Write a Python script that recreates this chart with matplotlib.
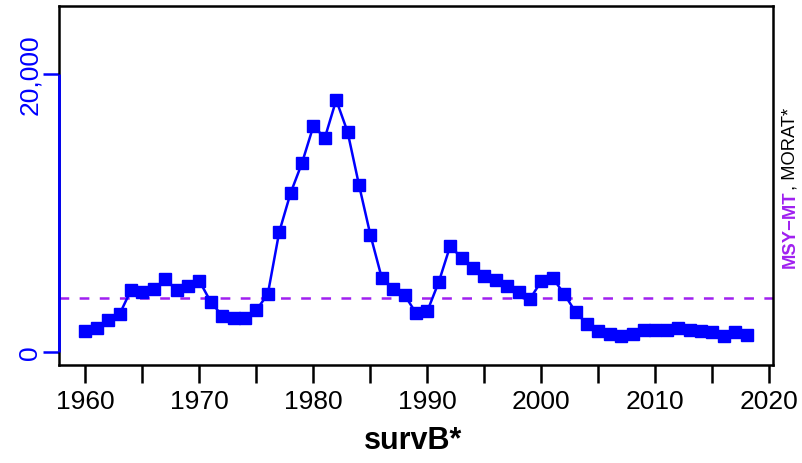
import matplotlib
matplotlib.use("Agg")
import matplotlib.pyplot as plt

plt.rcParams["font.family"] = ["Liberation Sans", "DejaVu Sans"]
plt.rcParams["lines.scale_dashes"] = False

years = list(range(1960, 2019))
survB = [1510, 1730, 2300, 2730, 4460, 4320, 4530, 5250, 4460, 4750,
         5100, 3600, 2600, 2450, 2450, 3020, 4170, 8630, 11440, 13600,
         16260, 15400, 18130, 15830, 12010, 8420, 5320, 4530, 4100, 2800,
         2950, 5040, 7630, 6760, 6040, 5470, 5180, 4750, 4320, 3810,
         5110, 5320, 4170, 2880, 2010, 1510, 1290, 1150, 1290, 1580,
         1580, 1580, 1730, 1580, 1510, 1440, 1150, 1440, 1220]
msy_mt = 3880

x_ticks = list(range(1960, 2021, 5))
x_labels = [str(v) if v % 10 == 0 else "" for v in x_ticks]
y_ticks = [0, 20000]
y_labels = ["0", "20,000"]

blue = "#0000FF"
purple = "#A020F0"

fig = plt.figure(figsize=(8.03, 4.64), dpi=100)
ax = fig.add_axes([59 / 803, 98 / 464, 714 / 803, 359 / 464])

ax.plot(years, survB, color=blue, lw=1.8, marker="s", markersize=8.3,
        zorder=3)
ax.axhline(msy_mt, color=purple, lw=1.8, ls=(0, (7, 7.5)), zorder=2)

ax.set_xlim(1957.68, 2020.32)
ax.set_ylim(-935, 24890)

for s in ax.spines.values():
    s.set_color("black")
    s.set_linewidth(1.8)

# blue y axis segment over the box edge
ax.plot([0, 0], [0, 20000], color=blue, lw=2, transform=ax.get_yaxis_transform(),
        clip_on=False, zorder=5, solid_capstyle="butt")

ax.set_xticks(x_ticks)
ax.set_xticklabels(x_labels, fontsize=19)
ax.tick_params(axis="x", length=13, width=1.8, color="black", pad=4)

ax.set_yticks(y_ticks)
ax.set_yticklabels(y_labels, fontsize=19, rotation=90, va="center")
ax.tick_params(axis="y", length=11.5, width=1.8, colors=blue, pad=1)

fig.text(413.5 / 803, 15 / 464, "survB*", fontsize=22, fontweight="bold",
         ha="center", va="baseline")

# right-side label in two colours
fig.canvas.draw()
r = fig.canvas.get_renderer()
xb = 795 / 803
t1 = fig.text(xb, 0, "MSY\u2212MT", fontsize=13.2, color=purple, rotation=90,
              fontweight="bold", rotation_mode="anchor", ha="left", va="baseline")
t2 = fig.text(xb, 0, ", MORAT*", fontsize=13.2, color="black", rotation=90,
              rotation_mode="anchor", ha="left", va="baseline")
h1 = t1.get_window_extent(r).height / fig.bbox.height
h2 = t2.get_window_extent(r).height / fig.bbox.height
yc = 1 - 188 / 464
y0 = yc - (h1 + h2) / 2
t1.set_y(y0)
t2.set_y(y0 + h1)

fig.savefig("out.png", dpi=100)
